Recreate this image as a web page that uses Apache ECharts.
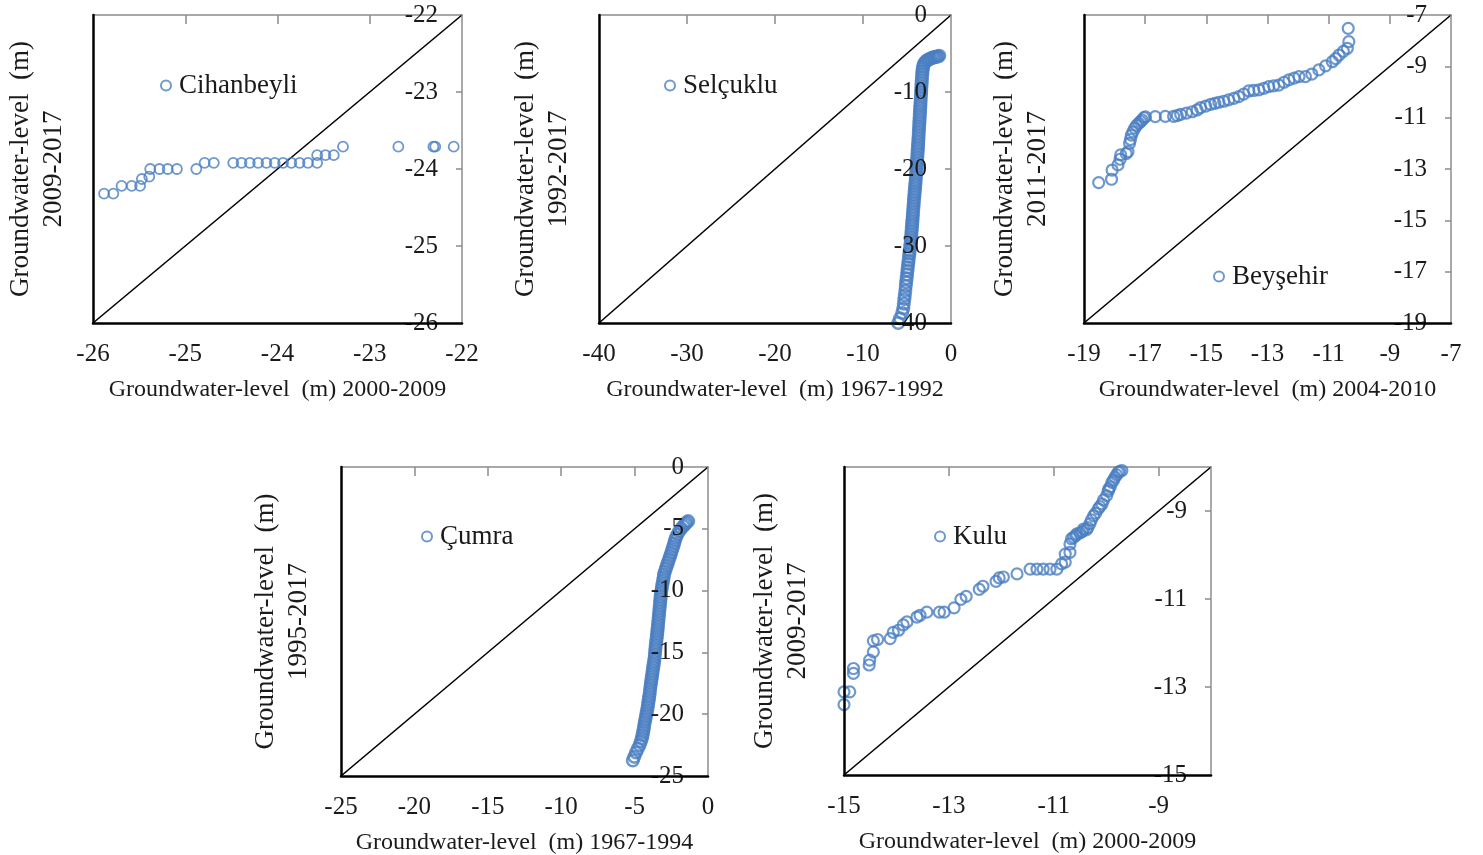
<!DOCTYPE html>
<html>
<head>
<meta charset="utf-8">
<script src="https://cdn.jsdelivr.net/npm/echarts@6/dist/echarts.min.js"></script>
<style>
  html, body { margin: 0; padding: 0; background: #fff; }
  #chart { width: 1483px; height: 855px; }
</style>
</head>
<body>
<div id="chart"></div>
<script>
// ---- Cihanbeyli: 2000-2009 (x) vs 2009-2017 (y) ----
const cihanbeyliX = [-25.88, -25.78, -25.69, -25.58, -25.49, -25.47, -25.39, -25.38, -25.28, -25.19, -25.09,
  -24.88, -24.79, -24.69, -24.48, -24.39, -24.30, -24.21, -24.12, -24.03, -23.94, -23.85, -23.76, -23.67, -23.57,
  -23.57, -23.48, -23.39, -23.29, -22.69, -22.31, -22.29, -22.09];
const cihanbeyliY = [-24.32, -24.32, -24.22, -24.22, -24.22, -24.13, -24.10, -24.00, -24.00, -24.00, -24.00,
  -24.00, -23.92, -23.92, -23.92, -23.92, -23.92, -23.92, -23.92, -23.92, -23.92, -23.92, -23.92, -23.92, -23.92,
  -23.82, -23.82, -23.82, -23.71, -23.71, -23.71, -23.71, -23.71];
const cihanbeyliTicks = [-26, -25, -24, -23, -22];
const cihanbeyliRange = [-26, -22];

// ---- Selçuklu: 1967-1992 (x) vs 1992-2017 (y) ----
const selcukluX = [-6.00, -5.80, -5.55, -5.42, -5.36, -5.30, -5.25, -5.19, -5.14, -5.09, -5.04, -4.99, -4.95,
  -4.91, -4.86, -4.82, -4.77, -4.73, -4.69, -4.64, -4.60, -4.56, -4.53, -4.51, -4.48, -4.45, -4.42, -4.40, -4.37,
  -4.34, -4.32, -4.29, -4.26, -4.24, -4.21, -4.18, -4.15, -4.12, -4.09, -4.06, -4.03, -4.00, -3.98, -3.95, -3.93,
  -3.90, -3.88, -3.86, -3.83, -3.81, -3.79, -3.76, -3.74, -3.72, -3.70, -3.68, -3.66, -3.64, -3.62, -3.60, -3.58,
  -3.56, -3.54, -3.52, -3.50, -3.48, -3.46, -3.44, -3.42, -3.40, -3.38, -3.36, -3.34, -3.32, -3.30, -3.27, -3.24,
  -3.20, -3.14, -3.05, -2.92, -2.76, -2.58, -2.40, -2.21, -2.02, -1.84, -1.66, -1.49, -1.33];
const selcukluY = [-40.0, -39.4, -38.7, -38.1, -37.5, -36.9, -36.4, -35.8, -35.2, -34.7, -34.2, -33.7, -33.2,
  -32.8, -32.3, -31.9, -31.4, -31.0, -30.6, -30.1, -29.7, -29.3, -28.9, -28.5, -28.1, -27.7, -27.3, -26.9, -26.5,
  -26.1, -25.7, -25.3, -24.9, -24.5, -24.1, -23.7, -23.3, -22.9, -22.5, -22.1, -21.7, -21.3, -20.9, -20.5, -20.1,
  -19.7, -19.3, -18.9, -18.5, -18.1, -17.7, -17.3, -16.9, -16.5, -16.1, -15.7, -15.3, -14.9, -14.5, -14.1, -13.7,
  -13.3, -12.9, -12.5, -12.1, -11.7, -11.3, -10.9, -10.5, -10.1, -9.7, -9.3, -8.9, -8.5, -8.1, -7.7,
  -7.3, -6.9, -6.6, -6.3, -6.1, -5.9, -5.8, -5.7, -5.6, -5.5, -5.5, -5.4, -5.4, -5.3];
const selcukluTicks = [-40, -30, -20, -10, 0];
const selcukluRange = [-40, 0];

// ---- Beyşehir: 2004-2010 (x) vs 2011-2017 (y) ----
const beysehirX = [-18.52, -18.10, -18.08, -17.89, -17.82, -17.80, -17.62, -17.56, -17.51, -17.48, -17.45, -17.40,
  -17.34, -17.28, -17.21, -17.15, -17.10, -17.04, -16.99, -16.67, -16.34, -16.07, -15.95, -15.84, -15.65, -15.46,
  -15.30, -15.19, -15.02, -14.86, -14.72, -14.59, -14.43, -14.27, -14.10, -13.94, -13.78, -13.61, -13.45, -13.28,
  -13.12, -12.96, -12.80, -12.63, -12.46, -12.30, -12.13, -11.97, -11.76, -11.55, -11.32, -11.10, -10.88, -10.77,
  -10.66, -10.52, -10.39, -10.34, -10.36];
const beysehirY = [-13.53, -13.40, -13.04, -12.84, -12.62, -12.45, -12.40, -12.32, -12.00, -11.85, -11.68, -11.55,
  -11.41, -11.30, -11.22, -11.15, -11.09, -11.00, -10.97, -10.96, -10.95, -10.95, -10.92, -10.87, -10.82, -10.77,
  -10.70, -10.61, -10.55, -10.48, -10.44, -10.40, -10.36, -10.31, -10.25, -10.18, -10.08, -9.96, -9.94, -9.92,
  -9.86, -9.79, -9.76, -9.73, -9.62, -9.53, -9.46, -9.40, -9.40, -9.30, -9.14, -8.98, -8.82, -8.70,
  -8.56, -8.42, -8.30, -8.04, -7.52];
const beysehirTicks = [-19, -17, -15, -13, -11, -9, -7];
const beysehirRange = [-19, -7];

// ---- Çumra: 1967-1994 (x) vs 1995-2017 (y) ----
const cumraX = [-5.12, -5.02, -4.90, -4.78, -4.66, -4.57, -4.50, -4.46, -4.42, -4.38, -4.35, -4.31, -4.27, -4.23,
  -4.19, -4.15, -4.11, -4.08, -4.05, -4.02, -3.99, -3.96, -3.94, -3.91, -3.88, -3.85, -3.82, -3.79, -3.76, -3.73,
  -3.70, -3.67, -3.64, -3.62, -3.60, -3.58, -3.56, -3.53, -3.51, -3.48, -3.46, -3.44, -3.42, -3.40, -3.38, -3.36,
  -3.34, -3.32, -3.30, -3.28, -3.26, -3.24, -3.22, -3.20, -3.17, -3.14, -3.10, -3.06, -3.02, -3.00, -2.93, -2.86,
  -2.79, -2.72, -2.65, -2.58, -2.51, -2.44, -2.37, -2.31, -2.25, -2.18, -2.08, -1.96, -1.82, -1.67, -1.55, -1.45,
  -1.35];
const cumraY = [-23.75, -23.45, -23.10, -22.80, -22.50, -22.20, -21.95, -21.70, -21.45, -21.20, -20.95, -20.70,
  -20.45, -20.20, -19.95, -19.70, -19.45, -19.20, -18.95, -18.70, -18.45, -18.20, -17.95, -17.70, -17.45, -17.20,
  -16.95, -16.70, -16.45, -16.20, -15.95, -15.70, -15.45, -15.20, -14.95, -14.70, -14.45, -14.20, -13.95, -13.70,
  -13.45, -13.20, -12.95, -12.70, -12.45, -12.20, -11.95, -11.70, -11.45, -11.20, -10.95, -10.70, -10.45, -10.20,
  -9.95, -9.70, -9.45, -9.20, -8.95, -8.70, -8.45, -8.20, -7.95, -7.70, -7.45, -7.20, -6.95, -6.70, -6.45, -6.20,
  -5.95, -5.70, -5.45, -5.20, -4.98, -4.78, -4.62, -4.48, -4.38];
const cumraTicks = [-25, -20, -15, -10, -5, 0];
const cumraRange = [-25, 0];

// ---- Kulu: 2000-2009 (x) vs 2009-2017 (y) ----
const kuluX = [-15.00, -15.00, -14.89, -14.82, -14.82, -14.52, -14.51, -14.44, -14.44, -14.36, -14.12, -14.06,
  -13.96, -13.87, -13.80, -13.61, -13.55, -13.42, -13.18, -13.09, -12.90, -12.77, -12.67, -12.42, -12.35, -12.10,
  -12.04, -11.96, -11.70, -11.45, -11.32, -11.20, -11.07, -10.94, -10.85, -10.78, -10.78, -10.69, -10.69, -10.66,
  -10.62, -10.58, -10.56, -10.50, -10.46, -10.43, -10.38, -10.35, -10.31, -10.28, -10.24, -10.20, -10.15, -10.12,
  -10.08, -10.05, -9.99, -9.96, -9.95, -9.92, -9.89, -9.86, -9.83, -9.80, -9.77, -9.74, -9.70];
const kuluY = [-13.40, -13.11, -13.11, -12.69, -12.58, -12.50, -12.39, -12.20, -11.95, -11.92, -11.90, -11.76,
  -11.71, -11.59, -11.52, -11.41, -11.37, -11.30, -11.30, -11.30, -11.20, -11.01, -10.94, -10.78, -10.71, -10.60,
  -10.52, -10.50, -10.43, -10.32, -10.32, -10.32, -10.32, -10.32, -10.20, -10.16, -9.98, -9.94, -9.75, -9.63,
  -9.60, -9.56, -9.52, -9.50, -9.47, -9.41, -9.43, -9.38, -9.29, -9.20, -9.11, -9.05, -8.95, -8.90,
  -8.84, -8.75, -8.65, -8.55, -8.50, -8.45, -8.35, -8.30, -8.23, -8.18, -8.12, -8.10, -8.08];
const kuluTicks = [-15, -13, -11, -9];
const kuluRange = [-15, -8];

// ---- shared styling ----
const FONT = 'Liberation Serif';
const TEXT = '#1a1a1a';
const BLUE = '#4A7EC2';
const GRAY = '#8c8c8c';

// Layout of the five panels (plot rectangle, legend anchor, y-title gap, marker look)
const panels = [
  { name: 'Cihanbeyli', xs: cihanbeyliX, ys: cihanbeyliY, ticks: cihanbeyliTicks, range: cihanbeyliRange,
    xTitle: 'Groundwater-level  (m) 2000-2009', yTitle: 'Groundwater-level  (m)\n2009-2017',
    rect: [93, 15, 369, 308], legend: [160, 72], yGap: 23, mark: [10, 1.8] },
  { name: 'Selçuklu', xs: selcukluX, ys: selcukluY, ticks: selcukluTicks, range: selcukluRange,
    xTitle: 'Groundwater-level  (m) 1967-1992', yTitle: 'Groundwater-level  (m)\n1992-2017',
    rect: [599, 15, 352, 308], legend: [664, 72], yGap: 24, mark: [11.5, 2.6] },
  { name: 'Beyşehir', xs: beysehirX, ys: beysehirY, ticks: beysehirTicks, range: beysehirRange,
    xTitle: 'Groundwater-level  (m) 2004-2010', yTitle: 'Groundwater-level  (m)\n2011-2017',
    rect: [1084, 15, 367, 308], legend: [1213, 263], yGap: 30, mark: [11, 2.2] },
  { name: 'Çumra', xs: cumraX, ys: cumraY, ticks: cumraTicks, range: cumraRange,
    xTitle: 'Groundwater-level  (m) 1967-1994', yTitle: 'Groundwater-level  (m)\n1995-2017',
    rect: [341, 467, 367, 309], legend: [421, 523], yGap: 26, mark: [11.5, 2.6] },
  { name: 'Kulu', xs: kuluX, ys: kuluY, ticks: kuluTicks, range: kuluRange,
    xTitle: 'Groundwater-level  (m) 2000-2009', yTitle: 'Groundwater-level  (m)\n2009-2017',
    rect: [844, 467, 367, 308], legend: [934, 523], yGap: 30, mark: [11, 2.2] }
];

const grid = [], xAxis = [], yAxis = [], series = [], legend = [];

panels.forEach((p, i) => {
  const [min, max] = p.range;
  const inner = p.ticks.filter(v => v !== min && v !== max);
  const labelStyle = { fontFamily: FONT, fontSize: 25, color: TEXT };
  const ringStyle = { color: 'rgba(255,255,255,0)', borderColor: BLUE, borderWidth: p.mark[1] };

  grid.push({ left: p.rect[0], top: p.rect[1], width: p.rect[2], height: p.rect[3],
    containLabel: false, outerBoundsMode: 'none' });

  // bottom axis: heavy black line (drawn above the value labels), tick labels and title
  xAxis.push({
    gridIndex: i, type: 'value', position: 'bottom', min, max, z: 7,
    axisLine: { show: true, onZero: false, lineStyle: { color: '#000', width: 2.5 } },
    axisTick: { show: false }, splitLine: { show: false },
    axisLabel: Object.assign({ customValues: p.ticks, margin: 19 }, labelStyle),
    name: p.xTitle, nameLocation: 'middle', nameGap: 55,
    nameTextStyle: { fontFamily: FONT, fontSize: 24, color: TEXT }
  });
  // top axis: thin grey frame line with inward ticks
  xAxis.push({
    gridIndex: i, type: 'value', position: 'top', min, max,
    axisLine: { show: true, onZero: false, lineStyle: { color: GRAY, width: 1.5 } },
    axisTick: { show: true, inside: true, length: 9, customValues: inner, lineStyle: { color: GRAY, width: 1.5 } },
    axisLabel: { show: false }, splitLine: { show: false }
  });
  // left axis: heavy black line and two-line title
  yAxis.push({
    gridIndex: i, type: 'value', position: 'left', min, max, z: 7,
    axisLine: { show: true, onZero: false, lineStyle: { color: '#000', width: 2.5 } },
    axisTick: { show: false }, axisLabel: { show: false }, splitLine: { show: false },
    name: p.yTitle, nameLocation: 'middle', nameGap: p.yGap,
    nameTextStyle: { fontFamily: FONT, fontSize: 27, lineHeight: 33, color: TEXT, align: 'center' }
  });
  // right axis: grey frame line, inward ticks, labels inside the plot drawn over the points
  yAxis.push({
    gridIndex: i, type: 'value', position: 'right', min, max, z: 6,
    axisLine: { show: true, onZero: false, lineStyle: { color: GRAY, width: 1.5 } },
    axisTick: { show: true, inside: true, length: 6, customValues: inner, lineStyle: { color: GRAY, width: 1.5 } },
    axisLabel: Object.assign({ inside: true, margin: 24, customValues: p.ticks }, labelStyle),
    splitLine: { show: false }
  });

  // 1:1 reference line
  series.push({
    type: 'line', xAxisIndex: 2 * i, yAxisIndex: 2 * i, data: [[min, min], [max, max]],
    showSymbol: false, symbol: 'none', silent: true, z: 1,
    lineStyle: { color: '#000', width: 1.6 }
  });
  // quantile pairs
  const n = Math.min(p.xs.length, p.ys.length);
  const pts = [];
  for (let k = 0; k < n; k++) pts.push([p.xs[k], p.ys[k]]);
  series.push({
    type: 'scatter', name: p.name, xAxisIndex: 2 * i, yAxisIndex: 2 * i, data: pts,
    symbol: 'circle', symbolSize: p.mark[0], z: 3,
    itemStyle: ringStyle,
    emphasis: { disabled: true }
  });

  legend.push({
    data: [p.name], left: p.legend[0], top: p.legend[1], padding: 0,
    itemWidth: 16, itemHeight: 10, selectedMode: false,
    itemStyle: { color: 'rgba(255,255,255,0)', borderColor: BLUE, borderWidth: 2 },
    textStyle: { fontFamily: FONT, fontSize: 27, color: TEXT }
  });
});

const chart = echarts.init(document.getElementById('chart'), null, { renderer: 'canvas' });
chart.setOption({ animation: false, backgroundColor: '#fff', grid, xAxis, yAxis, series, legend });
</script>
</body>
</html>
